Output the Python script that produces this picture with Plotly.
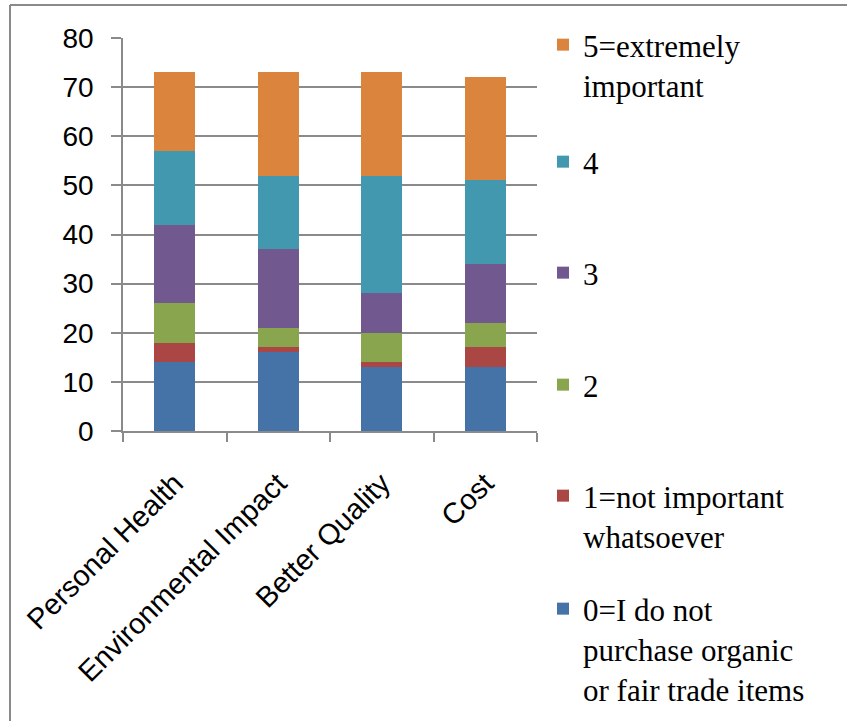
import plotly.graph_objects as go

# Survey: importance of reasons for buying organic / fair trade items
categories = ["Personal Health", "Environmental Impact", "Better Quality", "Cost"]

rating_labels = [
    "0=I do not<br>purchase organic<br>or fair trade items",
    "1=not important<br>whatsoever",
    "2",
    "3",
    "4",
    "5=extremely<br>important",
]

r0 = [14, 16, 13, 13]
r1 = [4, 1, 1, 4]
r2 = [8, 4, 6, 5]
r3 = [16, 16, 8, 12]
r4 = [15, 15, 24, 17]
r5 = [16, 21, 21, 21]
series = [r0, r1, r2, r3, r4, r5]

colors = ["#4572A7", "#AA4643", "#89A54E", "#71588F", "#4198AF", "#DB843D"]

W, H = 847, 721
ML, MR, MT, MB = 123, 310, 38, 290
grid_col = "#8a8a8a"

fig = go.Figure()

legend_names = ["legend6", "legend5", "legend4", "legend3", "legend2", "legend"]
for vals, name, col, lg in zip(series, rating_labels, colors, legend_names):
    fig.add_trace(go.Bar(
        x=categories, y=vals, name=name,
        marker=dict(color=col, line=dict(width=0)),
        legend=lg, showlegend=True,
    ))

# one legend box per rating, stacked down the right side
legend_tops = {"legend": 18, "legend2": 135, "legend3": 246,
               "legend4": 358, "legend5": 469, "legend6": 582}
legend_font = dict(family="Liberation Serif", size=31, color="#000000")
leg_x = 543
for lg, top in legend_tops.items():
    fig.update_layout(**{lg: dict(
        x=leg_x / W, xref="container", xanchor="left",
        y=1 - top / H, yref="container", yanchor="top",
        font=legend_font, valign="top", bgcolor="rgba(0,0,0,0)",
        borderwidth=0, itemwidth=30,
    )})

# outer frame on the left and top edges
pw, ph = W - ML - MR, H - MT - MB
def px_x(v):
    return (v - ML) / pw
def px_y(v):
    return (H - MB - v) / ph

fig.add_shape(type="line", xref="paper", yref="paper",
              x0=px_x(10), x1=px_x(10), y0=px_y(5), y1=px_y(H + 5),
              line=dict(color="#8a8a8a", width=2))
fig.add_shape(type="line", xref="paper", yref="paper",
              x0=px_x(10), x1=px_x(W + 5), y0=px_y(5), y1=px_y(5),
              line=dict(color="#8a8a8a", width=2))

fig.update_layout(
    barmode="stack",
    bargap=0.604,
    showlegend=True,
    width=W, height=H,
    margin=dict(l=ML, r=MR, t=MT, b=MB, pad=0, autoexpand=False),
    paper_bgcolor="white",
    plot_bgcolor="white",
    font=dict(family="Liberation Sans", size=27, color="#000000"),
)

fig.update_xaxes(
    type="category",
    tickangle=-45,
    showline=True, linecolor=grid_col, linewidth=1.5,
    ticks="outside", tickson="boundaries", ticklen=9, tickcolor=grid_col, tickwidth=1.5,
    showgrid=False,
    ticklabelstandoff=22,
    tickfont=dict(family="Liberation Sans", size=29),
)
fig.update_yaxes(
    range=[0, 80], tick0=0, dtick=10,
    showline=True, linecolor=grid_col, linewidth=1.5,
    ticks="outside", ticklen=10, tickcolor=grid_col, tickwidth=1.5,
    showgrid=True, gridcolor=grid_col, gridwidth=1.5,
    zeroline=False,
    ticklabelstandoff=12,
    tickfont=dict(family="Liberation Sans", size=28),
)

fig.write_html("out.html")
